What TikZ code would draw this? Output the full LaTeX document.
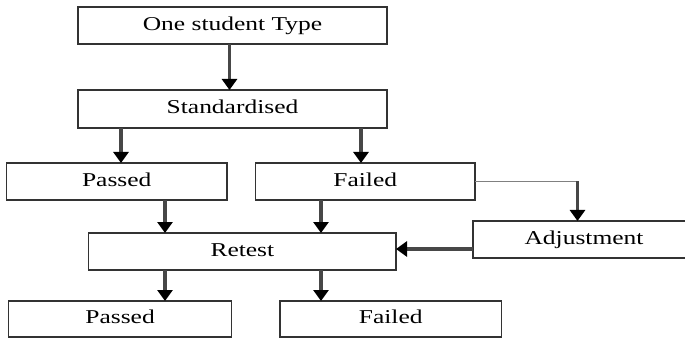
\documentclass[tikz,border=0pt]{standalone}
\usepackage{fontspec}
\usepackage{graphicx}
\setmainfont{Liberation Serif}
\usetikzlibrary{arrows.meta}
\tikzset{
  box/.style={draw=black!80, line width=1.5pt, inner sep=0pt, outer sep=0pt,
    text height=14pt, text depth=4.6pt, align=center,
    font=\fontsize{19.6}{23}\selectfont},
  arr/.style={draw=black!72, line width=3.8pt,
    -{Triangle[length=11pt,width=15pt,fill=black,color=black]}},
  thinline/.style={draw=black!50, line width=1.5pt}
}
\newcommand{\wtxt}[1]{\scalebox{1.3}[1]{#1}}
\begin{document}
\begin{tikzpicture}[x=1pt,y=-1pt]
\clip (0,0) rectangle (685,339);
\fill[white] (0,0) rectangle (685,339);
\node[box, minimum width=309pt, minimum height=37pt] (one) at (232.5,25.5) {\wtxt{One student Type}};
\node[box, minimum width=309pt, minimum height=38pt] (std) at (232.5,109) {\wtxt{Standardised}};
\node[box, minimum width=220.5pt, minimum height=37pt] (pass1) at (116.75,181.5) {\wtxt{Passed}};
\node[box, minimum width=219.5pt, minimum height=37pt] (fail1) at (365.25,181.5) {\wtxt{Failed}};
\node[box, minimum width=307.3pt, minimum height=37pt] (retest) at (242.35,251.5) {\wtxt{Retest}};
\node[box, minimum width=222pt, minimum height=37pt] (adj) at (584,239.5) {\wtxt{Adjustment}};
\node[box, minimum width=222.8pt, minimum height=36pt] (pass2) at (120.1,319) {\wtxt{Passed}};
\node[box, minimum width=221.5pt, minimum height=36pt] (fail2) at (390.75,319) {\wtxt{Failed}};
\coordinate (corner) at (fail1.east -| 577.5,0);
\draw[arr] (one.south -| 229.5,0) -- (std.north -| 229.5,0);
\draw[arr] (std.south -| 121,0) -- (pass1.north -| 121,0);
\draw[arr] (std.south -| 361,0) -- (fail1.north -| 361,0);
\draw[arr] (pass1.south -| 165,0) -- (retest.north -| 165,0);
\draw[arr] (fail1.south -| 321,0) -- (retest.north -| 321,0);
\draw[thinline] (fail1.east) -- (corner);
\draw[arr] (corner) -- (adj.north -| corner);
\draw[arr] (adj.west |- 0,249) -- (retest.east |- 0,249);
\draw[arr] (retest.south -| 165,0) -- (pass2.north -| 165,0);
\draw[arr] (retest.south -| 321,0) -- (fail2.north -| 321,0);
\end{tikzpicture}
\end{document}
